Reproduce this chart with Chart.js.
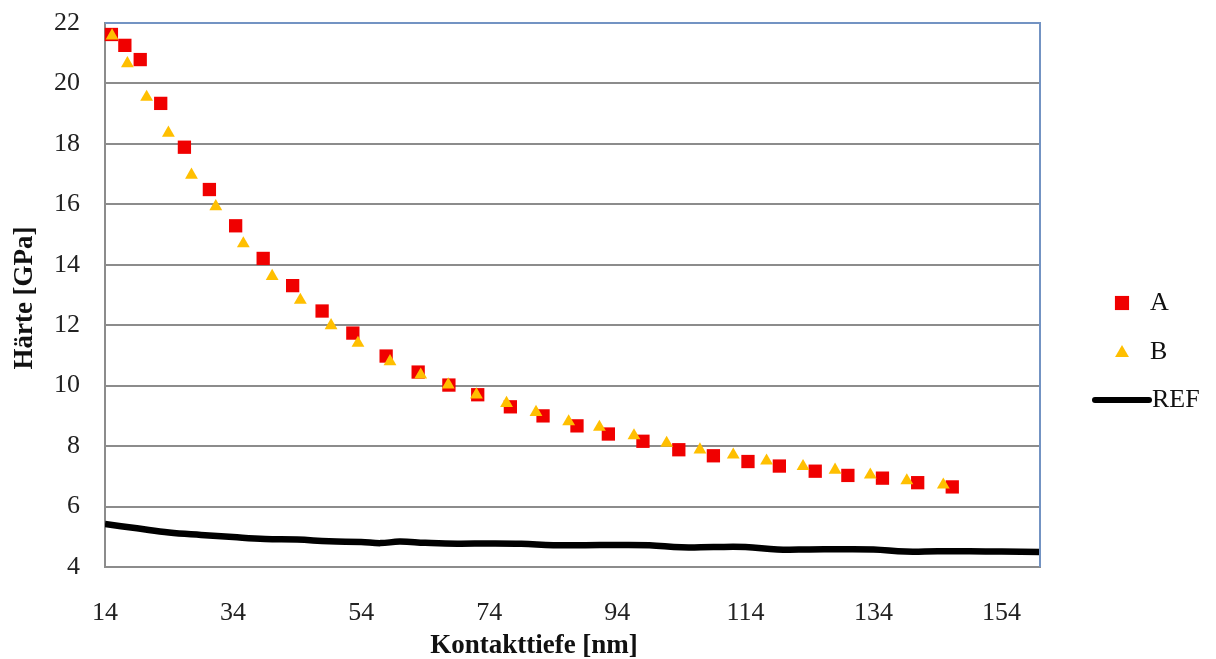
<!DOCTYPE html>
<html>
<head>
<meta charset="utf-8">
<script src="https://cdn.jsdelivr.net/npm/chart.js@4"></script>
<style>
  html, body { margin: 0; padding: 0; background: #fff; }
  #wrap { width: 1216px; height: 659px; }
</style>
</head>
<body>
<div id="wrap"><canvas id="haerteChart" width="1216" height="659"></canvas></div>
<script>
// Kontakttiefe [nm] / Härte [GPa]
const depthA = [15.0, 17.1, 19.5, 22.7, 26.4, 30.3, 34.4, 38.7, 43.3, 47.9, 52.7, 57.9, 62.9, 67.7, 72.2,
  77.3, 82.4, 87.7, 92.6, 98.0, 103.6, 109.0, 114.4, 119.3, 124.9, 130.0, 135.4, 140.9, 146.3];
const hardA = [21.62, 21.26, 20.79, 19.34, 17.89, 16.49, 15.29, 14.21, 13.31, 12.47, 11.74, 10.98, 10.45, 10.02, 9.70,
  9.30, 9.00, 8.67, 8.40, 8.16, 7.88, 7.68, 7.49, 7.34, 7.17, 7.03, 6.94, 6.79, 6.65];

const depthB = [15.1, 17.5, 20.5, 23.9, 27.5, 31.3, 35.6, 40.1, 44.5, 49.3, 53.5, 58.5, 63.3, 67.6, 72.0,
  76.7, 81.3, 86.4, 91.2, 96.6, 101.7, 106.9, 112.1, 117.3, 123.0, 128.0, 133.5, 139.2, 144.9];
const hardB = [21.58, 20.66, 19.55, 18.36, 16.97, 15.93, 14.70, 13.62, 12.83, 11.99, 11.41, 10.80, 10.36, 10.03, 9.70,
  9.42, 9.12, 8.81, 8.63, 8.35, 8.10, 7.88, 7.71, 7.51, 7.33, 7.21, 7.05, 6.86, 6.72];

const depthRef = [14, 19, 24, 29, 34, 39, 44, 49, 54, 57, 60, 64, 69, 74, 79, 84, 89, 94, 99, 104,
  109, 114, 119, 124, 129, 134, 139, 144, 149, 154, 160];
const hardRef = [5.42, 5.28, 5.14, 5.06, 4.99, 4.93, 4.91, 4.85, 4.83, 4.79, 4.84, 4.80, 4.77, 4.78, 4.77, 4.72,
  4.72, 4.73, 4.72, 4.65, 4.66, 4.66, 4.58, 4.58, 4.59, 4.58, 4.51, 4.52, 4.52, 4.51, 4.50];

const xTicks = [14, 34, 54, 74, 94, 114, 134, 154];
const yTicks = [4, 6, 8, 10, 12, 14, 16, 18, 20, 22];

const seriesNames = ["A", "B", "REF"];
const xTitle = "Kontakttiefe [nm]";
const yTitle = "Härte [GPa]";

const RED = "#f00000";
const GOLD = "#ffbf00";
const GRID = "#8c8c8c";
const FRAME = "#7393c3";
const serif = "'Liberation Serif', 'Times New Roman', serif";

const toPoints = (xs, ys) => xs.map((x, i) => ({ x: x, y: ys[i] }));

// frame, axis titles and legend the way Excel puts them
const excelBits = {
  id: "excelBits",
  afterDraw(chart) {
    const { ctx, chartArea } = chart;
    ctx.save();
    ctx.strokeStyle = FRAME;
    ctx.lineWidth = 2;
    ctx.beginPath();
    ctx.moveTo(chartArea.left, chartArea.top);
    ctx.lineTo(chartArea.right, chartArea.top);
    ctx.lineTo(chartArea.right, chartArea.bottom);
    ctx.stroke();

    ctx.fillStyle = "#111";
    ctx.font = "bold 27px " + serif;
    ctx.textAlign = "center";
    ctx.textBaseline = "middle";
    ctx.fillText(xTitle, 534, 646);
    ctx.save();
    ctx.translate(25, 298);
    ctx.rotate(-Math.PI / 2);
    ctx.fillText(yTitle, 0, 0);
    ctx.restore();

    // legend
    const lx = 1122;
    const rows = [303, 352, 400];
    ctx.fillStyle = RED;
    Chart.helpers.drawPoint(ctx, { pointStyle: "rect", radius: 10, rotation: 0, borderWidth: 0 }, lx, rows[0]);
    ctx.fillStyle = GOLD;
    Chart.helpers.drawPoint(ctx, { pointStyle: "triangle", radius: 8, rotation: 0, borderWidth: 0 }, lx, rows[1] + 1);
    ctx.strokeStyle = "#000";
    ctx.lineWidth = 6;
    ctx.lineCap = "round";
    ctx.beginPath();
    ctx.moveTo(1095, rows[2]);
    ctx.lineTo(1149, rows[2]);
    ctx.stroke();

    ctx.fillStyle = "#111";
    ctx.font = "26px " + serif;
    ctx.textAlign = "left";
    seriesNames.forEach((name, i) => {
      ctx.fillText(name, i === 2 ? 1152 : 1150, rows[i]);
    });
    ctx.restore();
  },
};

const ctx = document.getElementById("haerteChart").getContext("2d");
const haerteChart = new Chart(ctx, {
  type: "scatter",
  data: {
    datasets: [
      {
        label: seriesNames[0],
        data: toPoints(depthA, hardA),
        pointStyle: "rect",
        pointRadius: 9.4,
        pointHoverRadius: 9.4,
        backgroundColor: RED,
        borderColor: RED,
        borderWidth: 0,
        clip: false,
        order: 1,
      },
      {
        label: seriesNames[1],
        data: toPoints(depthB, hardB),
        pointStyle: "triangle",
        pointRadius: 7.4,
        pointHoverRadius: 7.4,
        backgroundColor: GOLD,
        borderColor: GOLD,
        borderWidth: 0,
        clip: false,
        order: 0,
      },
      {
        label: seriesNames[2],
        data: toPoints(depthRef, hardRef),
        showLine: true,
        borderColor: "#000",
        borderWidth: 6.5,
        tension: 0.4,
        pointRadius: 0,
        pointHoverRadius: 0,
        clip: 0,
        order: 2,
      },
    ],
  },
  options: {
    responsive: false,
    animation: false,
    layout: {
      padding: { left: 0, right: 176, top: 23, bottom: 0 },
    },
    plugins: {
      legend: { display: false },
      tooltip: { enabled: false },
    },
    scales: {
      x: {
        type: "linear",
        min: 14,
        max: 160,
        afterBuildTicks: (scale) => {
          scale.ticks = xTicks.map((v) => ({ value: v }));
        },
        afterFit: (scale) => {
          scale.height = 92;
          scale.paddingLeft = 0;
          scale.paddingRight = 0;
        },
        grid: { display: false, drawTicks: false },
        border: { display: true, color: GRID, width: 2 },
        ticks: {
          color: "#222",
          padding: 31,
          font: { family: serif, size: 26 },
        },
      },
      y: {
        type: "linear",
        min: 4,
        max: 22,
        afterBuildTicks: (scale) => {
          scale.ticks = yTicks.map((v) => ({ value: v }));
        },
        afterFit: (scale) => {
          scale.width = 105;
          scale.paddingTop = 0;
          scale.paddingBottom = 0;
        },
        grid: { color: GRID, lineWidth: 2, drawTicks: false },
        border: { display: true, color: GRID, width: 2 },
        ticks: {
          color: "#222",
          padding: 25,
          font: { family: serif, size: 26 },
        },
      },
    },
  },
  plugins: [excelBits],
});
</script>
</body>
</html>
